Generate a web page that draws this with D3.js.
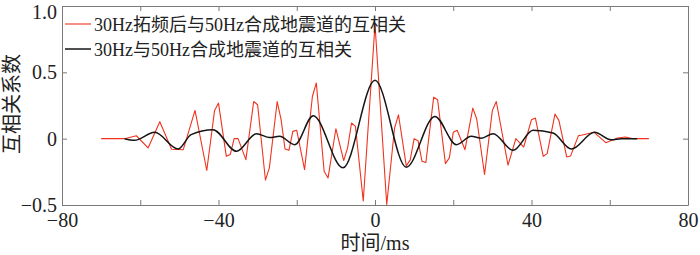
<!DOCTYPE html>
<html>
<head>
<meta charset="utf-8">
<script src="https://cdn.jsdelivr.net/npm/d3@7"></script>
<style>
  body { margin: 0; background: #fff; }
  svg { display: block; }
  text { font-family: "Liberation Serif", "Noto Sans CJK SC", serif; fill: #222; }
</style>
</head>
<body>
<div id="chart"></div>
<script>
// time (ms) and correlation values
let redTime = [-70, -64, -61, -58, -55, -52, -49, -46, -43, -41, -40, -38, -37, -36, -35, -33, -31, -30, -28, -27, -25, -24, -23, -22, -21, -20, -18, -16, -15, -13, -12, -10, -8, -7, -6, -5, -3, 0, 3, 5, 6, 8, 9, 10, 11, 12, 13, 15, 16, 18, 19, 20, 21, 23, 25, 26, 28, 30, 31, 34, 36, 38, 40, 41, 43, 44, 46, 47, 49, 50, 52, 53, 56, 59, 62, 64, 66, 70];
let redVals = [0, 0, 0.022, -0.07, 0.128, -0.08, -0.083, 0.213, -0.24, 0.213, 0.268, -0.133, -0.12, 0, 0, -0.158, 0.28, 0.256, -0.313, -0.22, 0.28, 0.143, -0.078, -0.088, 0.055, 0.063, -0.233, 0.318, 0.42, -0.246, -0.296, 0.075, -0.165, -0.07, 0.118, 0.093, -0.47, 0.86, -0.496, 0.08, 0.18, -0.205, -0.16, 0, -0.015, -0.17, -0.18, 0.313, 0.293, -0.188, -0.145, 0.048, 0.063, -0.083, 0.23, 0.148, -0.27, 0.213, 0.28, -0.2, 0, -0.063, 0.143, 0.155, -0.133, -0.113, 0.185, 0.138, -0.138, -0.13, 0.023, 0.028, 0.048, -0.03, 0.005, 0.012, 0, 0];

let blackTime = [-64, -61.5, -56.3, -50.3, -47, -41.4, -35.4, -30.3, -26.9, -24.4, -20.5, -15.8, -8.2, 0, 8, 15.3, 20.8, 24.6, 27.2, 30.2, 35.3, 40.4, 45.5, 50.2, 56.1, 60.4, 63, 67];
let blackVals = [0, -0.012, 0.048, -0.078, 0.03, 0.068, -0.095, 0.038, 0.008, 0.018, -0.045, 0.173, -0.22, 0.44, -0.215, 0.168, -0.045, 0.018, 0.003, 0.038, -0.088, 0.063, 0.043, -0.078, 0.048, -0.008, 0, 0];

let xTicks = [-80, -60, -40, -20, 0, 20, 40, 60, 80];
let xLabels = [-80, -40, 0, 40, 80];
let yTicks = [-0.5, 0, 0.5, 1.0];

let legendNames = ["30Hz拓频后与50Hz合成地震道的互相关", "30Hz与50Hz合成地震道的互相关"];

let w = 700;
let h = 255;
let margin = { top: 6, right: 12, bottom: 50, left: 62 };

let svg = d3.select("#chart")
  .append("svg")
  .attr("width", w)
  .attr("height", h);

let x = d3.scaleLinear().domain([-80, 80]).range([margin.left, w - margin.right]);
let y = d3.scaleLinear().domain([-0.5, 1.0]).range([h - margin.bottom, margin.top]);

let axisColor = "#7a7a7a";

function styleAxis(g) {
  g.selectAll("path, line").attr("stroke", axisColor);
  g.selectAll("text")
    .style("font-family", "Liberation Serif, serif")
    .style("font-size", "20px")
    .attr("fill", "#222");
}

let fmtY = d => d === 0 ? "0" : d3.format(".1f")(d);

// bottom axis with labels
svg.append("g")
  .attr("transform", "translate(0," + y(-0.5) + ")")
  .call(d3.axisBottom(x).tickValues(xTicks).tickSizeInner(-5).tickSizeOuter(0).tickPadding(8)
    .tickFormat(d => xLabels.includes(d) ? d3.format("d")(d) : ""))
  .call(styleAxis);

// top axis, ticks only
svg.append("g")
  .attr("transform", "translate(0," + y(1.0) + ")")
  .call(d3.axisTop(x).tickValues(xTicks).tickSizeInner(-5).tickSizeOuter(0).tickFormat(""))
  .call(styleAxis);

// left axis
svg.append("g")
  .attr("transform", "translate(" + x(-80) + ",0)")
  .call(d3.axisLeft(y).tickValues(yTicks).tickSizeInner(-5).tickSizeOuter(0).tickPadding(5).tickFormat(fmtY))
  .call(styleAxis);

// keep the top label inside the picture
svg.selectAll("g.tick text").filter(d => d === 1.0).attr("dy", "0.6em");

// right axis, ticks only
svg.append("g")
  .attr("transform", "translate(" + x(80) + ",0)")
  .call(d3.axisRight(y).tickValues(yTicks).tickSizeInner(-5).tickSizeOuter(0).tickFormat(""))
  .call(styleAxis);

let red = redTime.map((t, i) => [t, redVals[i]]);
let black = blackTime.map((t, i) => [t, blackVals[i]]);

let redLine = d3.line()
  .x(d => x(d[0]))
  .y(d => y(d[1]));

let blackLine = d3.line()
  .x(d => x(d[0]))
  .y(d => y(d[1]))
  .curve(d3.curveMonotoneX);

svg.append("path")
  .datum(red)
  .attr("fill", "none")
  .attr("stroke", "#f0321e")
  .attr("stroke-width", 1.1)
  .attr("stroke-linejoin", "round")
  .attr("d", redLine);

svg.append("path")
  .datum(black)
  .attr("fill", "none")
  .attr("stroke", "#151515")
  .attr("stroke-width", 1.5)
  .attr("d", blackLine);

// legend
let legendColors = ["#f0321e", "#151515"];
legendNames.forEach((name, i) => {
  let ly = 24 + i * 25;
  svg.append("line")
    .attr("x1", 65).attr("x2", 91)
    .attr("y1", ly).attr("y2", ly)
    .attr("stroke", legendColors[i])
    .attr("stroke-width", i === 0 ? 1.1 : 1.5);
  svg.append("text")
    .attr("x", 94)
    .attr("y", ly + 7)
    .style("font-size", "18px")
    .text(name);
});

// axis titles
svg.append("text")
  .attr("x", x(0))
  .attr("y", 250)
  .attr("text-anchor", "middle")
  .style("font-size", "20px")
  .text("时间/ms");

svg.append("text")
  .attr("transform", "translate(19," + 104 + ") rotate(-90)")
  .attr("text-anchor", "middle")
  .style("font-size", "20px")
  .text("互相关系数");
</script>
</body>
</html>
